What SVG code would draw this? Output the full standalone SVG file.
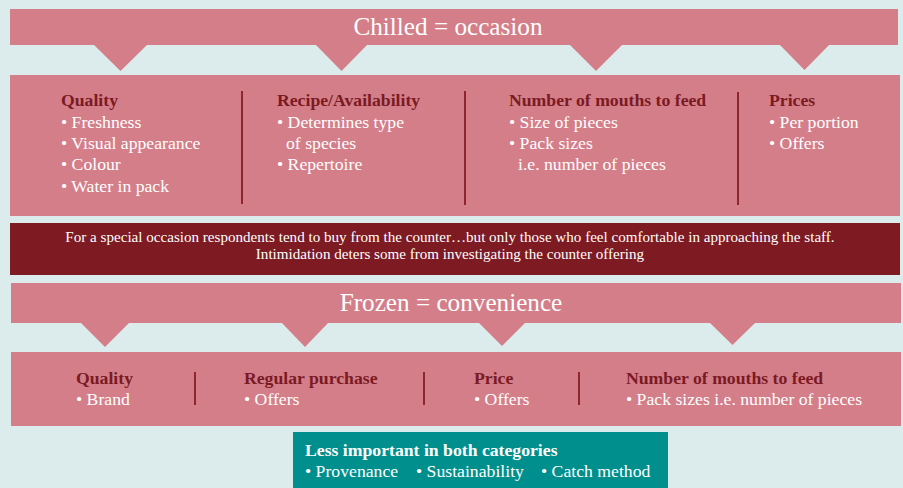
<svg xmlns="http://www.w3.org/2000/svg" width="903" height="488" viewBox="0 0 903 488">
<defs>
<style>
.bg{fill:#DCECEC}
.pink{fill:#D47E89}
.band{fill:#7D1A22}
.teal{fill:#008F8C}
.div{stroke:#8E2630;stroke-width:2;fill:none}
text{font-family:"Liberation Serif","Times New Roman",serif}
.title{font-size:25.2px;fill:#FFFFFF;text-anchor:middle}
.h{font-size:17.7px;font-weight:bold;fill:#7B1A23}
.b{font-size:17.7px;fill:#FFFFFF}
.bt{font-size:15.1px;fill:#FFFFFF;text-anchor:middle}
.th{font-size:17.7px;font-weight:bold;fill:#FFFFFF}
</style>
</defs>
<rect class="bg" x="0" y="0" width="903" height="488"/>

<g id="chilled-banner">
<rect class="pink" x="10" y="9" width="888" height="36"/>
<polygon class="pink" points="93,44 148,44 120.5,71"/>
<polygon class="pink" points="315,44 368,44 341.5,71"/>
<polygon class="pink" points="569,44 623,44 596,71"/>
<polygon class="pink" points="779,44 830,44 804.5,70"/>
<text class="title" x="448" y="35">Chilled = occasion</text>
</g>

<g id="chilled-box">
<rect class="pink" x="10" y="75" width="890" height="141"/>
<text class="h" x="61" y="106">Quality</text>
<text class="b" x="61" y="128">• Freshness</text>
<text class="b" x="61" y="149">• Visual appearance</text>
<text class="b" x="61" y="170">• Colour</text>
<text class="b" x="61" y="192">• Water in pack</text>
<text class="h" x="277" y="106">Recipe/Availability</text>
<text class="b" x="277" y="128">• Determines type</text>
<text class="b" x="286" y="149">of species</text>
<text class="b" x="277" y="170">• Repertoire</text>
<text class="h" x="509" y="106">Number of mouths to feed</text>
<text class="b" x="509" y="128">• Size of pieces</text>
<text class="b" x="509" y="149">• Pack sizes</text>
<text class="b" x="518" y="170">i.e. number of pieces</text>
<text class="h" x="769" y="106">Prices</text>
<text class="b" x="769" y="128">• Per portion</text>
<text class="b" x="769" y="149">• Offers</text>
</g>

<g id="note-band">
<rect class="band" x="10" y="223" width="890" height="52"/>
<text class="bt" x="450" y="242">For a special occasion respondents tend to buy from the counter…but only those who feel comfortable in approaching the staff.</text>
<text class="bt" x="450" y="259">Intimidation deters some from investigating the counter offering</text>
</g>

<g id="frozen-banner">
<rect class="pink" x="11" y="283" width="890" height="40"/>
<polygon class="pink" points="80,322 130,322 105,347"/>
<polygon class="pink" points="281,322 329,322 305,347"/>
<polygon class="pink" points="478,322 526,322 502,346"/>
<polygon class="pink" points="709,322 756,322 732.5,345"/>
<text class="title" x="451" y="311">Frozen = convenience</text>
</g>

<g id="frozen-box">
<rect class="pink" x="11" y="352" width="890" height="74"/>
<text class="h" x="76" y="384">Quality</text>
<text class="b" x="76" y="405">• Brand</text>
<text class="h" x="244" y="384">Regular purchase</text>
<text class="b" x="244" y="405">• Offers</text>
<text class="h" x="474" y="384">Price</text>
<text class="b" x="474" y="405">• Offers</text>
<text class="h" x="626" y="384">Number of mouths to feed</text>
<text class="b" x="626" y="405">• Pack sizes i.e. number of pieces</text>
</g>

<g id="less-important">
<rect class="teal" x="293" y="432" width="375" height="56"/>
<text class="th" x="305" y="456">Less important in both categories</text>
<text class="b" x="305" y="477">• Provenance</text>
<text class="b" x="416" y="477">• Sustainability</text>
<text class="b" x="541" y="477">• Catch method</text>
</g>

<g id="connectors">
<line class="div" x1="242" y1="91" x2="242" y2="204"/>
<line class="div" x1="465" y1="91" x2="465" y2="205"/>
<line class="div" x1="738" y1="92" x2="738" y2="205"/>
<line class="div" x1="195" y1="372" x2="195" y2="405"/>
<line class="div" x1="424" y1="372" x2="424" y2="405"/>
<line class="div" x1="579" y1="372" x2="579" y2="405"/>
</g>
</svg>
